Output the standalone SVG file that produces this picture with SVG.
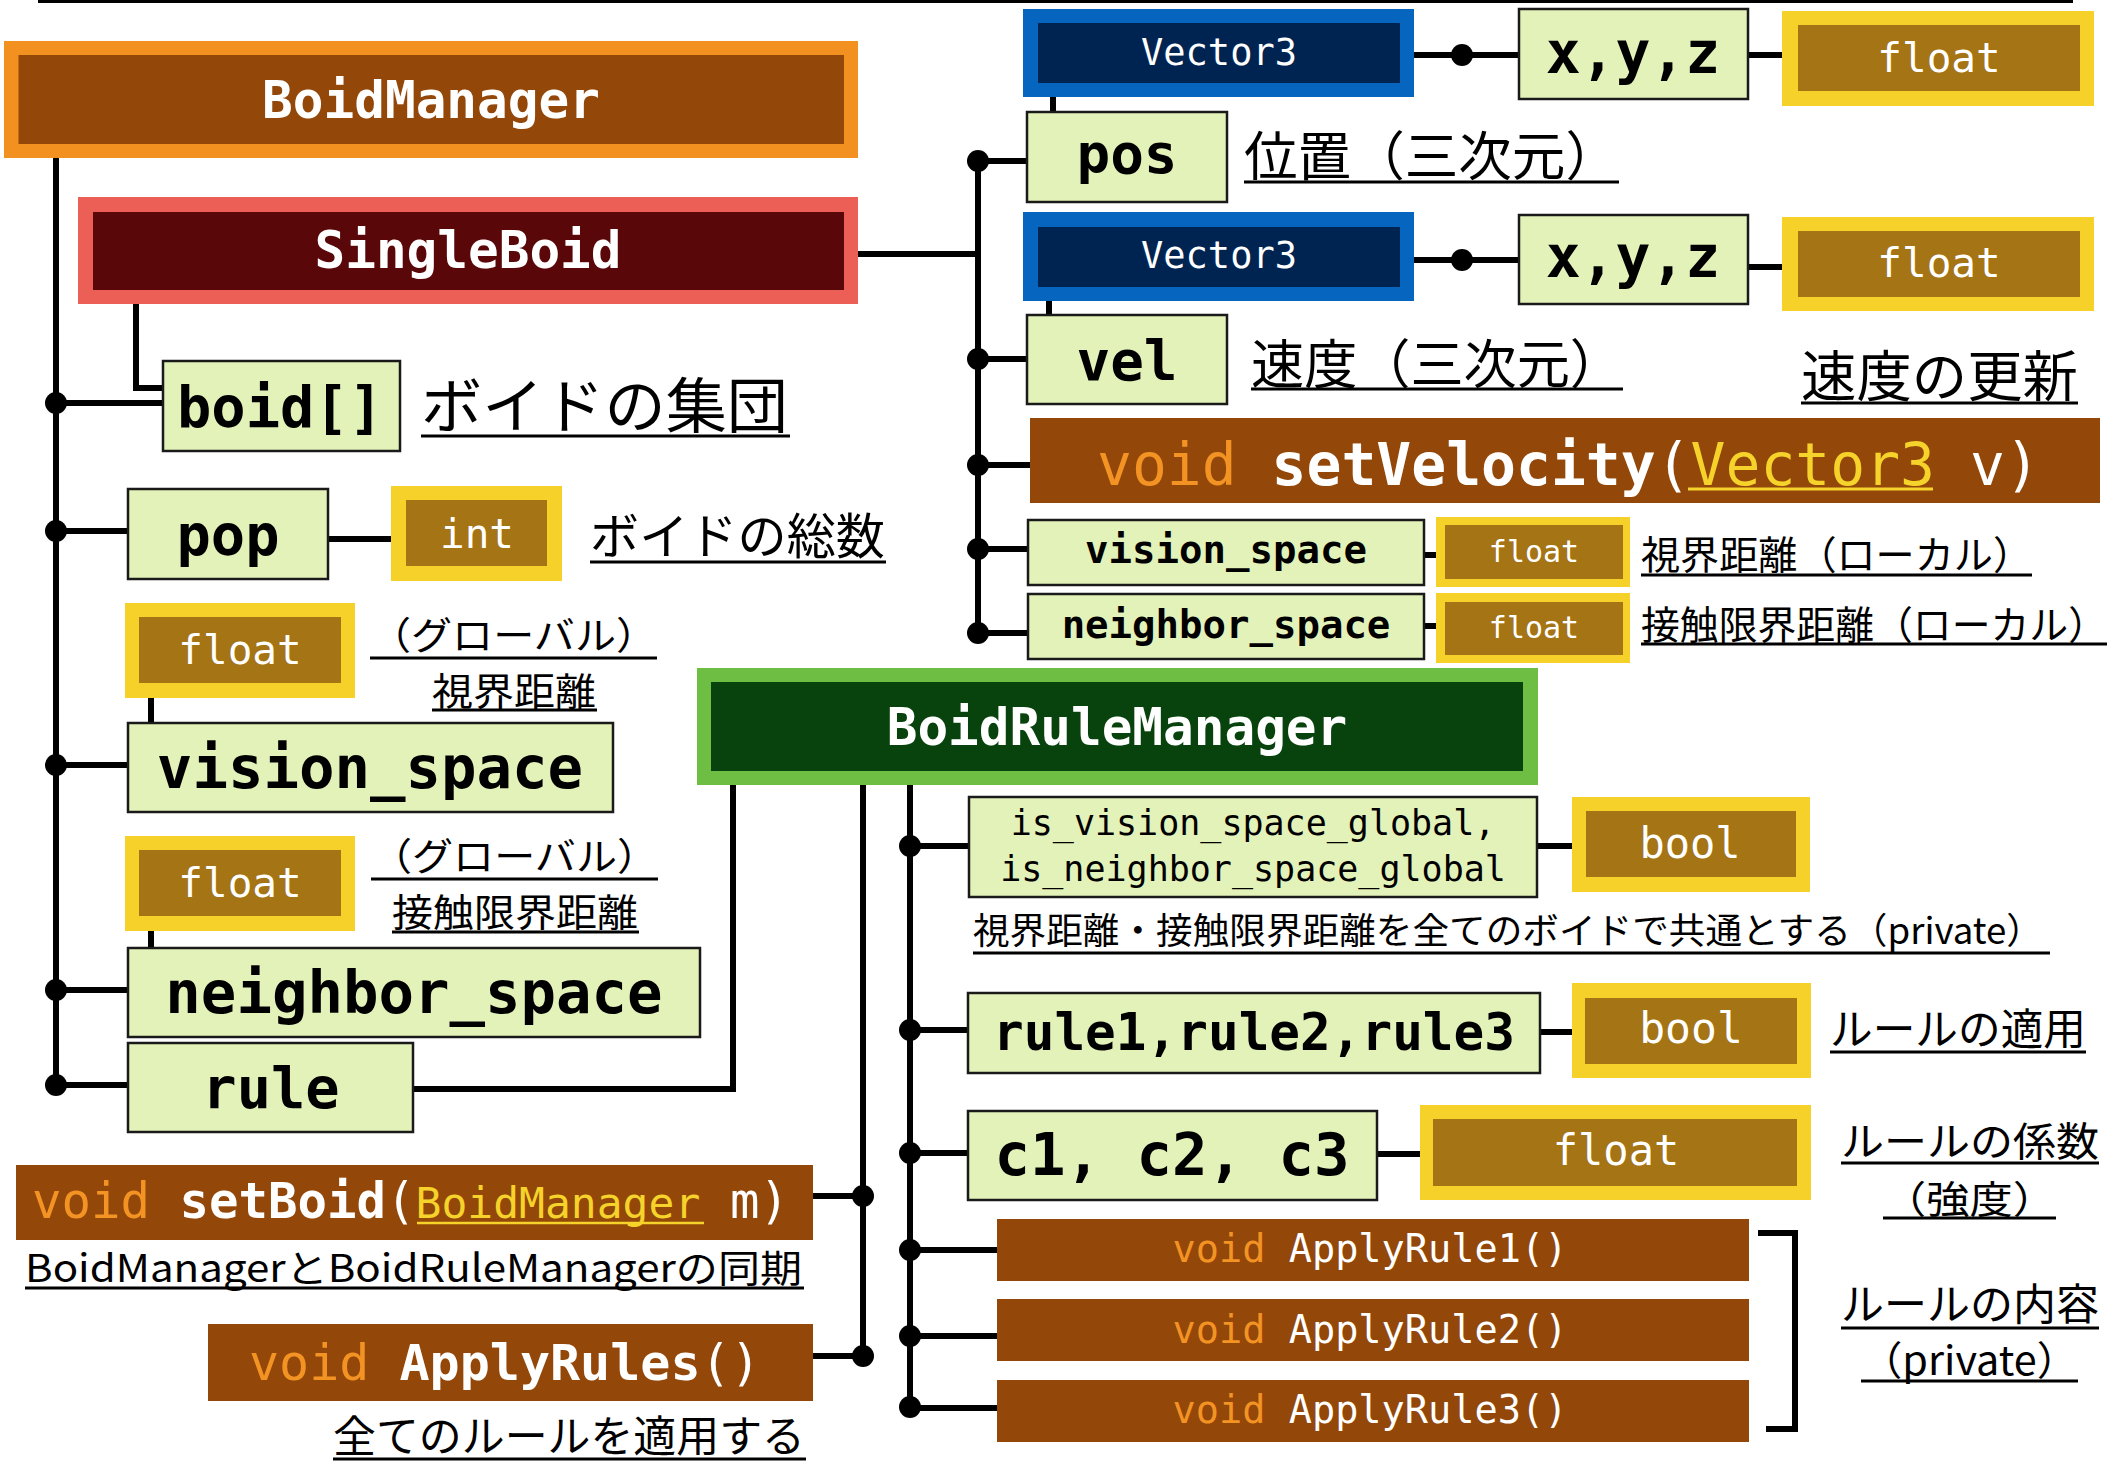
<svg xmlns="http://www.w3.org/2000/svg" width="2107" height="1461" viewBox="0 0 2107 1461">
<style>
.code{font-family:"DejaVu Sans Mono","Liberation Mono",monospace;}
.b{font-weight:bold;}
.jp{font-family:"Noto Sans CJK JP","Noto Sans",sans-serif;fill:#000;}
.mem{fill:#E3F2B9;stroke:#1a1a1a;stroke-width:2.5;}
.ob{fill:#F29120;}
.brown{fill:#934709;}
.rb{fill:#EB5F57;}
.dr{fill:#5A0709;}
.bb{fill:#0565BF;}
.nv{fill:#002451;}
.gb{fill:#6EBE44;}
.dg{fill:#08430D;}
.yb{fill:#F6D12A;}
.gold{fill:#A57414;}
.w{fill:#fff;}
.k{fill:#000;}
.or{fill:#F39324;}
.ye{fill:#F5D32A;}
.c{text-anchor:middle;}
.ln{stroke:#000;stroke-width:6;fill:none;}
.ul{stroke:#000;stroke-width:3;}
</style>

<line x1="38" y1="1.5" x2="2073" y2="1.5" stroke="#000" stroke-width="3"/>

<g id="connectors">
  <path class="ln" d="M56,158 V1085"/>
  <path class="ln" d="M56,403 H163 M56,531 H128 M56,765 H128 M56,990 H128 M56,1085 H128"/>
  <path class="ln" d="M136,304 V388 H163"/>
  <path class="ln" d="M328,539 H391"/>
  <path class="ln" d="M151,698 V723 M151,931 V948"/>
  <path class="ln" d="M858,254 H978 M978,161 V633"/>
  <path class="ln" d="M978,161 H1027 M978,359 H1027 M978,465 H1030 M978,549 H1028 M978,633 H1028"/>
  <path class="ln" d="M1053,97 V112 M1049,301 V315"/>
  <path class="ln" d="M1404,55 H1519 M1748,55 H1782 M1404,260 H1519 M1748,267 H1782"/>
  <path class="ln" d="M1424,555 H1436 M1424,626 H1436"/>
  <path class="ln" d="M733,785 V1089 H413"/>
  <path class="ln" d="M863,785 V1356 M813,1196 H863 M813,1356 H863"/>
  <path class="ln" d="M910,785 V1407 M910,846 H969 M910,1030 H968 M910,1153 H968 M910,1250 H997 M910,1336 H997 M910,1408 H997"/>
  <path class="ln" d="M1537,846 H1572 M1540,1032 H1572 M1377,1154 H1420"/>
  <path class="ln" d="M1758,1233 H1795 V1429 H1766"/>
  <g class="k">
    <circle cx="56" cy="403" r="11"/><circle cx="56" cy="531" r="11"/><circle cx="56" cy="765" r="11"/><circle cx="56" cy="990" r="11"/><circle cx="56" cy="1085" r="11"/>
    <circle cx="978" cy="161" r="11"/><circle cx="978" cy="359" r="11"/><circle cx="978" cy="465" r="11"/><circle cx="978" cy="549" r="11"/><circle cx="978" cy="633" r="11"/>
    <circle cx="1462" cy="55" r="11"/><circle cx="1462" cy="260" r="11"/>
    <circle cx="863" cy="1196" r="11"/><circle cx="863" cy="1356" r="11"/>
    <circle cx="910" cy="846" r="11"/><circle cx="910" cy="1030" r="11"/><circle cx="910" cy="1153" r="11"/><circle cx="910" cy="1250" r="11"/><circle cx="910" cy="1336" r="11"/><circle cx="910" cy="1407" r="11"/>
  </g>
</g>

<g id="BoidManager">
  <rect class="ob" x="4" y="41" width="854" height="117"/>
  <rect class="brown" x="18.5" y="55" width="825.5" height="89"/>
  <text class="code b w c" x="431" y="118" font-size="51">BoidManager</text>
</g>

<g id="SingleBoid">
  <rect class="rb" x="78" y="197" width="780" height="107"/>
  <rect class="dr" x="93" y="212" width="751" height="78"/>
  <text class="code b w c" x="468" y="268" font-size="51">SingleBoid</text>
</g>

<g id="boid">
  <rect class="mem" x="163" y="361" width="237" height="90"/>
  <text class="code b k c" x="280" y="427" font-size="57">boid[]</text>
  <text class="jp" x="421" y="428" font-size="60" textLength="367" lengthAdjust="spacingAndGlyphs">ボイドの集団</text>
  <line class="ul" x1="421" y1="436" x2="790" y2="436"/>
</g>

<g id="pop">
  <rect class="mem" x="128" y="489" width="200" height="90"/>
  <text class="code b k c" x="228" y="555" font-size="57">pop</text>
</g>
<g id="pop-int">
  <rect class="yb" x="391" y="486" width="171" height="95"/>
  <rect class="gold" x="406" y="500" width="141" height="66"/>
  <text class="code w c" x="477" y="548" font-size="41">int</text>
  <text class="jp" x="590" y="554" font-size="49" textLength="295" lengthAdjust="spacingAndGlyphs">ボイドの総数</text>
  <line class="ul" x1="590" y1="562" x2="886" y2="562"/>
</g>

<g id="vision-float-global">
  <rect class="yb" x="125" y="603" width="230" height="95"/>
  <rect class="gold" x="139" y="617" width="202" height="66"/>
  <text class="code w c" x="240" y="664" font-size="41">float</text>
  <text class="jp" x="370" y="649" font-size="38" textLength="287" lengthAdjust="spacingAndGlyphs">（グローバル）</text>
  <line class="ul" x1="370" y1="658" x2="657" y2="658"/>
  <text class="jp" x="432" y="705" font-size="38" textLength="164" lengthAdjust="spacingAndGlyphs">視界距離</text>
  <line class="ul" x1="432" y1="710" x2="597" y2="710"/>
</g>

<g id="vision_space">
  <rect class="mem" x="128" y="723" width="485" height="89"/>
  <text class="code b k c" x="370" y="788" font-size="59">vision_space</text>
</g>

<g id="neighbor-float-global">
  <rect class="yb" x="125" y="836" width="230" height="95"/>
  <rect class="gold" x="139" y="850" width="202" height="66"/>
  <text class="code w c" x="240" y="897" font-size="41">float</text>
  <text class="jp" x="371" y="870" font-size="38" textLength="287" lengthAdjust="spacingAndGlyphs">（グローバル）</text>
  <line class="ul" x1="371" y1="879" x2="658" y2="879"/>
  <text class="jp" x="392" y="926" font-size="38" textLength="246" lengthAdjust="spacingAndGlyphs">接触限界距離</text>
  <line class="ul" x1="392" y1="932" x2="639" y2="932"/>
</g>

<g id="neighbor_space">
  <rect class="mem" x="128" y="948" width="572" height="89"/>
  <text class="code b k c" x="414" y="1013" font-size="59">neighbor_space</text>
</g>

<g id="rule">
  <rect class="mem" x="128" y="1043" width="285" height="89"/>
  <text class="code b k c" x="271" y="1108" font-size="57">rule</text>
</g>

<g id="setBoid">
  <rect class="brown" x="16" y="1165" width="797" height="75"/>
  <text class="code" y="1218" font-size="49"><tspan class="or" x="32">void</tspan><tspan class="w b" x="179.5">setBoid</tspan><tspan class="w" x="386">(</tspan><tspan class="ye" x="415.5" font-size="43">BoidManager</tspan><tspan class="w" x="730">m)</tspan></text>
  <line x1="417" y1="1223" x2="704" y2="1223" stroke="#F5D32A" stroke-width="2.5"/>
  <text class="jp" x="25" y="1282" font-size="38" textLength="777" lengthAdjust="spacingAndGlyphs">BoidManagerとBoidRuleManagerの同期</text>
  <line class="ul" x1="25" y1="1288" x2="804" y2="1288"/>
</g>

<g id="ApplyRules">
  <rect class="brown" x="208" y="1324" width="605" height="77"/>
  <text class="code" y="1380" font-size="50"><tspan class="or" x="249">void</tspan><tspan class="w b" x="399.5">ApplyRules</tspan><tspan class="w" x="700.5">()</tspan></text>
  <text class="jp" x="333" y="1452" font-size="43" textLength="472" lengthAdjust="spacingAndGlyphs">全てのルールを適用する</text>
  <line class="ul" x1="333" y1="1459" x2="806" y2="1459"/>
</g>

<g id="pos">
  <rect class="mem" x="1027" y="112" width="200" height="90"/>
  <text class="code b k c" x="1127" y="173" font-size="56">pos</text>
  <text class="jp" x="1244" y="176" font-size="53" textLength="375" lengthAdjust="spacingAndGlyphs">位置（三次元）</text>
  <line class="ul" x1="1244" y1="182" x2="1619" y2="182"/>
</g>
<g id="pos-Vector3">
  <rect class="bb" x="1023" y="9" width="391" height="88"/>
  <rect class="nv" x="1038" y="23" width="362" height="60"/>
  <text class="code w c" x="1219" y="65" font-size="37">Vector3</text>
</g>
<g id="pos-xyz">
  <rect class="mem" x="1519" y="9" width="229" height="90"/>
  <text class="code b k c" x="1633" y="73" font-size="58">x,y,z</text>
</g>
<g id="pos-float">
  <rect class="yb" x="1782" y="11" width="312" height="95"/>
  <rect class="gold" x="1798" y="25" width="282" height="66"/>
  <text class="code w c" x="1939" y="72" font-size="41">float</text>
</g>

<g id="vel">
  <rect class="mem" x="1027" y="315" width="200" height="89"/>
  <text class="code b k c" x="1127" y="380" font-size="56">vel</text>
  <text class="jp" x="1251" y="384" font-size="53" textLength="372" lengthAdjust="spacingAndGlyphs">速度（三次元）</text>
  <line class="ul" x1="1251" y1="389" x2="1623" y2="389"/>
</g>
<g id="vel-Vector3">
  <rect class="bb" x="1023" y="212" width="391" height="89"/>
  <rect class="nv" x="1038" y="227" width="362" height="60"/>
  <text class="code w c" x="1219" y="268" font-size="37">Vector3</text>
</g>
<g id="vel-xyz">
  <rect class="mem" x="1519" y="215" width="229" height="89"/>
  <text class="code b k c" x="1633" y="277" font-size="58">x,y,z</text>
</g>
<g id="vel-float">
  <rect class="yb" x="1782" y="217" width="312" height="94"/>
  <rect class="gold" x="1798" y="231" width="282" height="66"/>
  <text class="code w c" x="1939" y="277" font-size="41">float</text>
</g>

<g id="setVelocity">
  <text class="jp" x="1801" y="396" font-size="55" textLength="277" lengthAdjust="spacingAndGlyphs">速度の更新</text>
  <line class="ul" x1="1801" y1="403" x2="2078" y2="403"/>
  <rect class="brown" x="1030" y="418" width="1070" height="85"/>
  <text class="code" y="485" font-size="58"><tspan class="or" x="1097">void</tspan><tspan class="w b" x="1271.6">setVelocity</tspan><tspan class="w" x="1655.7">(</tspan><tspan class="ye" x="1690.6">Vector3</tspan><tspan class="w" x="1970">v)</tspan></text>
  <line x1="1688" y1="489" x2="1933" y2="489" stroke="#F5D32A" stroke-width="3"/>
</g>

<g id="vision_space_local">
  <rect class="mem" x="1028" y="520" width="396" height="65"/>
  <text class="code b k c" x="1226" y="563" font-size="39">vision_space</text>
  <rect class="yb" x="1436" y="517" width="194" height="70"/>
  <rect class="gold" x="1445" y="525" width="178" height="54"/>
  <text class="code w c" x="1534" y="562" font-size="30">float</text>
  <text class="jp" x="1641" y="569" font-size="39" textLength="391" lengthAdjust="spacingAndGlyphs">視界距離（ローカル）</text>
  <line class="ul" x1="1641" y1="575" x2="2032" y2="575"/>
</g>

<g id="neighbor_space_local">
  <rect class="mem" x="1028" y="594" width="396" height="65"/>
  <text class="code b k c" x="1226" y="638" font-size="39">neighbor_space</text>
  <rect class="yb" x="1436" y="593" width="194" height="70"/>
  <rect class="gold" x="1445" y="602" width="178" height="53"/>
  <text class="code w c" x="1534" y="638" font-size="30">float</text>
  <text class="jp" x="1641" y="639" font-size="39" textLength="466" lengthAdjust="spacingAndGlyphs">接触限界距離（ローカル）</text>
  <line class="ul" x1="1641" y1="644" x2="2107" y2="644"/>
</g>

<g id="BoidRuleManager">
  <rect class="gb" x="697" y="668" width="841" height="117"/>
  <rect class="dg" x="711" y="682" width="812" height="89"/>
  <text class="code b w c" x="1117" y="745" font-size="51">BoidRuleManager</text>
</g>

<g id="is_global">
  <rect class="mem" x="969" y="797" width="568" height="100"/>
  <text class="code k c" x="1253" y="835" font-size="35">is_vision_space_global,</text>
  <text class="code k c" x="1253" y="881" font-size="35">is_neighbor_space_global</text>
  <rect class="yb" x="1572" y="797" width="238" height="95"/>
  <rect class="gold" x="1586" y="811" width="210" height="66"/>
  <text class="code w c" x="1690" y="858" font-size="42">bool</text>
  <text class="jp" x="973" y="944" font-size="36" textLength="1070" lengthAdjust="spacingAndGlyphs">視界距離・接触限界距離を全てのボイドで共通とする（private）</text>
  <line class="ul" x1="973" y1="953" x2="2050" y2="953"/>
</g>

<g id="rules">
  <rect class="mem" x="968" y="993" width="572" height="80"/>
  <text class="code b k c" x="1254" y="1050" font-size="51">rule1,rule2,rule3</text>
  <rect class="yb" x="1572" y="983" width="239" height="95"/>
  <rect class="gold" x="1585" y="998" width="212" height="66"/>
  <text class="code w c" x="1691" y="1043" font-size="43">bool</text>
  <text class="jp" x="1830" y="1045" font-size="43" textLength="256" lengthAdjust="spacingAndGlyphs">ルールの適用</text>
  <line class="ul" x1="1830" y1="1052" x2="2086" y2="1052"/>
</g>

<g id="coefs">
  <rect class="mem" x="968" y="1111" width="409" height="89"/>
  <text class="code b k c" x="1172" y="1175" font-size="59">c1, c2, c3</text>
  <rect class="yb" x="1420" y="1105" width="391" height="95"/>
  <rect class="gold" x="1433" y="1119" width="364" height="67"/>
  <text class="code w c" x="1616" y="1165" font-size="42">float</text>
  <text class="jp" x="1841" y="1156" font-size="40" textLength="258" lengthAdjust="spacingAndGlyphs">ルールの係数</text>
  <line class="ul" x1="1841" y1="1163" x2="2099" y2="1163"/>
  <text class="jp" x="1883" y="1213" font-size="38" textLength="173" lengthAdjust="spacingAndGlyphs">（強度）</text>
  <line class="ul" x1="1883" y1="1218" x2="2056" y2="1218"/>
</g>

<g id="ApplyRule1">
  <rect class="brown" x="997" y="1219" width="752" height="62"/>
  <text class="code" y="1262" font-size="38.6"><tspan class="or" x="1172.5">void</tspan><tspan class="w" x="1288.7">ApplyRule1()</tspan></text>
</g>
<g id="ApplyRule2">
  <rect class="brown" x="997" y="1299" width="752" height="62"/>
  <text class="code" y="1343" font-size="38.6"><tspan class="or" x="1172.5">void</tspan><tspan class="w" x="1288.7">ApplyRule2()</tspan></text>
</g>
<g id="ApplyRule3">
  <rect class="brown" x="997" y="1380" width="752" height="62"/>
  <text class="code" y="1423" font-size="38.6"><tspan class="or" x="1172.5">void</tspan><tspan class="w" x="1288.7">ApplyRule3()</tspan></text>
</g>
<g id="rule-contents">
  <text class="jp" x="1841" y="1320" font-size="43" textLength="258" lengthAdjust="spacingAndGlyphs">ルールの内容</text>
  <line class="ul" x1="1841" y1="1328" x2="2099" y2="1328"/>
  <text class="jp" x="1861" y="1375" font-size="40" textLength="217" lengthAdjust="spacingAndGlyphs">（private）</text>
  <line class="ul" x1="1861" y1="1381" x2="2078" y2="1381"/>
</g>
</svg>
